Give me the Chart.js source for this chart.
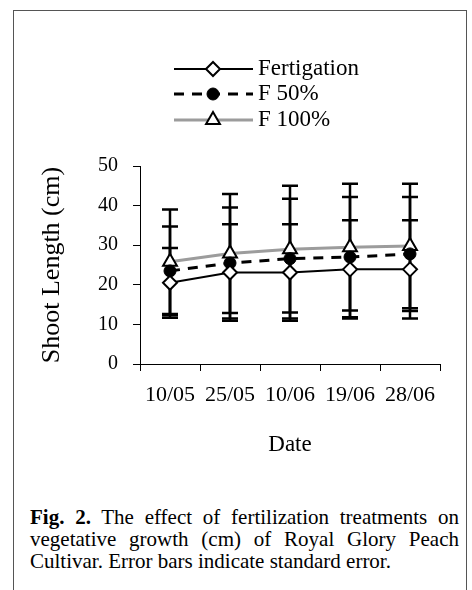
<!DOCTYPE html>
<html>
<head>
<meta charset="utf-8">
<script src="https://cdn.jsdelivr.net/npm/chart.js@4.4.0/dist/chart.umd.min.js"></script>
<style>
  body { margin: 0; background: #fff; width: 472px; height: 590px; overflow: hidden; position: relative; }
  #frame { position: absolute; left: 13px; top: 10px; width: 452px; height: 600px; border: 1.5px solid #555; border-bottom: none; }
  #wrap { position: absolute; left: 0; top: 0; width: 472px; height: 470px; }
  #caption { position: absolute; left: 30px; top: 506px; width: 429px; font-family: "Liberation Serif", serif; font-size: 21px; line-height: 22px; color: #000; }
  #caption .j { text-align: justify; text-align-last: justify; }
</style>
</head>
<body>
<div id="frame"></div>
<div id="wrap"><canvas id="chart" width="472" height="470"></canvas></div>
<div id="caption">
  <div class="j"><b>Fig. 2.</b> The effect of fertilization treatments on</div>
  <div class="j">vegetative growth (cm) of Royal Glory Peach</div>
  <div>Cultivar. Error bars indicate standard error.</div>
</div>
<script>
const fechas = ['10/05', '25/05', '10/06', '19/06', '28/06'];
const fertigacion = [20.5, 23.1, 23.1, 23.9, 23.9];
const fertigacionSE = [8.8, 12.2, 12.2, 12.4, 12.4];
const f50 = [23.5, 25.5, 26.6, 27.0, 27.8];
const f50SE = [11.2, 14.0, 15.1, 15.2, 14.4];
const f100 = [25.8, 27.9, 29.0, 29.5, 29.8];
const f100SE = [13.2, 15.0, 16.0, 16.0, 15.7];
const ticksY = [0, 10, 20, 30, 40, 50];

const serif = '"Liberation Serif", "Times New Roman", serif';

// barras de error detras de los marcadores
const barrasError = {
    id: 'barrasError',
    beforeDatasetsDraw(chart) {
        const ctx = chart.ctx;
        const x = chart.scales.x, y = chart.scales.y;
        ctx.save();
        ctx.strokeStyle = '#000';
        ctx.lineWidth = 2.5;
        chart.data.datasets.forEach(ds => {
            ds.data.forEach((v, i) => {
                const px = x.getPixelForValue(i);
                const top = y.getPixelForValue(v + ds.se[i]);
                const bot = y.getPixelForValue(v - ds.se[i]);
                ctx.beginPath();
                ctx.moveTo(px, top); ctx.lineTo(px, bot);
                ctx.moveTo(px - 8, top); ctx.lineTo(px + 8, top);
                ctx.moveTo(px - 8, bot); ctx.lineTo(px + 8, bot);
                ctx.stroke();
            });
        });
        ctx.restore();
    }
};

// leyenda propia con linea + marcador
const leyenda = {
    id: 'leyenda',
    afterDraw(chart) {
        const ctx = chart.ctx;
        const filas = [69, 94, 120];
        ctx.save();
        chart.data.datasets.forEach((ds, i) => {
            const yy = filas[i];
            ctx.strokeStyle = ds.borderColor;
            ctx.lineWidth = ds.borderWidth;
            ctx.setLineDash(ds.borderDash || []);
            ctx.beginPath();
            ctx.moveTo(174, yy); ctx.lineTo(253, yy);
            ctx.stroke();
            ctx.setLineDash([]);
            ctx.fillStyle = ds.pointBackgroundColor;
            ctx.strokeStyle = ds.pointBorderColor;
            ctx.lineWidth = ds.pointBorderWidth;
            Chart.helpers.drawPoint(ctx, {
                pointStyle: ds.pointStyle, radius: ds.pointRadius, rotation: 0, borderWidth: ds.pointBorderWidth
            }, 213, yy);
            ctx.fillStyle = '#000';
            ctx.font = Chart.helpers.toFont({ family: serif, size: 23 }).string;
            ctx.textBaseline = 'middle';
            ctx.textAlign = 'left';
            ctx.fillText(ds.label, 258, yy);
        });
        ctx.restore();
    }
};

new Chart(document.getElementById('chart'), {
    type: 'line',
    data: {
        labels: fechas,
        datasets: [{
            label: 'Fertigation',
            data: fertigacion,
            se: fertigacionSE,
            borderColor: '#000',
            borderWidth: 2,
            pointStyle: 'rectRot',
            pointRadius: 7,
            pointBackgroundColor: '#fff',
            pointBorderColor: '#000',
            pointBorderWidth: 2,
            order: 1
        }, {
            label: 'F 50%',
            data: f50,
            se: f50SE,
            borderColor: '#000',
            borderWidth: 3,
            borderDash: [10, 8],
            pointStyle: 'circle',
            pointRadius: 6,
            pointBackgroundColor: '#000',
            pointBorderColor: '#000',
            pointBorderWidth: 1,
            order: 2
        }, {
            label: 'F 100%',
            data: f100,
            se: f100SE,
            borderColor: '#9c9c9c',
            borderWidth: 3,
            pointStyle: 'triangle',
            pointRadius: 8,
            pointBackgroundColor: '#fff',
            pointBorderColor: '#000',
            pointBorderWidth: 2,
            order: 3
        }]
    },
    options: {
        responsive: false,
        animation: false,
        layout: { padding: { top: 166, right: 32, left: 0, bottom: 0 } },
        plugins: { legend: { display: false }, tooltip: { enabled: false } },
        scales: {
            x: {
                offset: true,
                afterFit: s => { s.height = 106; },
                grid: { offset: true, drawOnChartArea: false, drawTicks: true, tickLength: 7, color: '#000' },
                border: { display: true, color: '#000', width: 1 },
                ticks: { color: '#000', padding: 11, font: { family: serif, size: 22 }, maxRotation: 0, autoSkip: false },
                title: { display: true, text: 'Date', color: '#000', padding: { top: 0, bottom: 11 }, font: { family: serif, size: 23 } }
            },
            y: {
                min: 0,
                max: 50,
                afterFit: s => { s.width = 140; },
                afterBuildTicks: s => { s.ticks = ticksY.map(v => ({ value: v })); },
                grid: { drawOnChartArea: false, drawTicks: true, tickLength: 7, color: '#000' },
                border: { display: true, color: '#000', width: 1 },
                ticks: { color: '#000', padding: 15, font: { family: serif, size: 20 } },
                title: { display: true, text: 'Shoot Length (cm)', color: '#000', padding: { top: 37, bottom: 0 }, font: { family: serif, size: 26 } }
            }
        }
    },
    plugins: [barrasError, leyenda]
});
</script>
</body>
</html>
